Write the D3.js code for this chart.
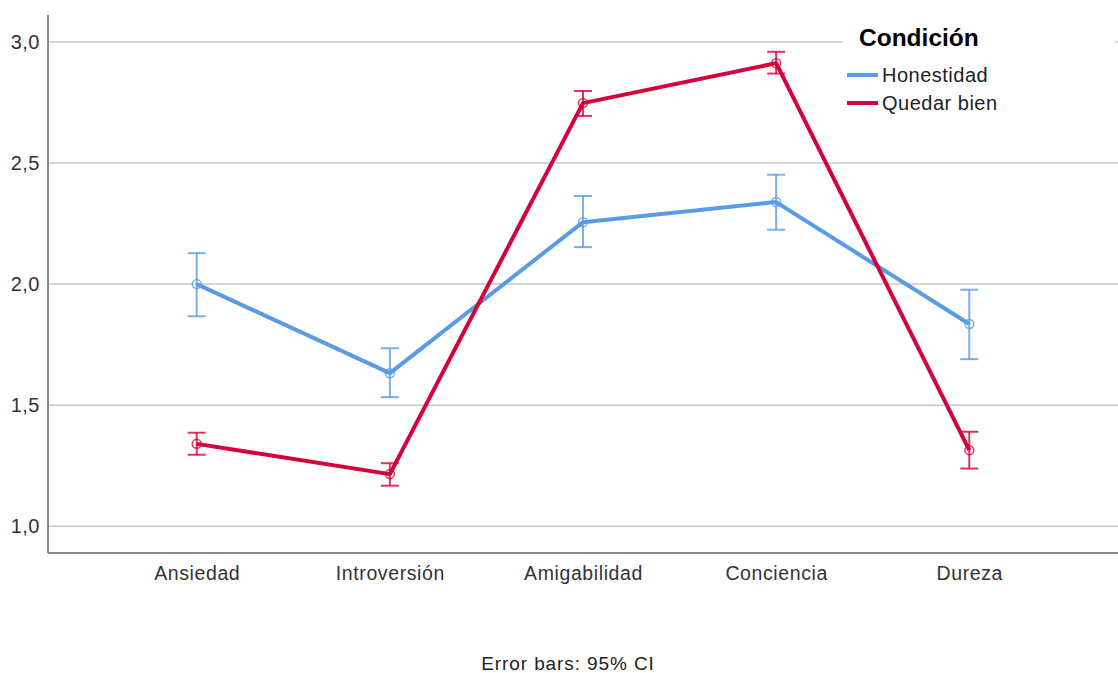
<!DOCTYPE html>
<html>
<head>
<meta charset="utf-8">
<script src="https://cdn.jsdelivr.net/npm/d3@7"></script>
<style>
  body { margin: 0; background: #fff; }
  text { font-family: "Liberation Sans", Arial, sans-serif; }
</style>
</head>
<body>
<div id="chart"></div>
<script>
const categories = ["Ansiedad", "Introversión", "Amigabilidad", "Conciencia", "Dureza"];
const seriesNames = ["Honestidad", "Quedar bien"];
const honestidadMean = [2.0, 1.632, 2.256, 2.339, 1.835];
const honestidadLow = [1.867, 1.533, 2.153, 2.225, 1.69];
const honestidadHigh = [2.128, 1.735, 2.364, 2.452, 1.977];
const quedarMean = [1.34, 1.215, 2.748, 2.913, 1.314];
const quedarLow = [1.295, 1.167, 2.695, 2.87, 1.238];
const quedarHigh = [1.386, 1.26, 2.798, 2.96, 1.39];
const yTicks = [1.0, 1.5, 2.0, 2.5, 3.0];

const colors = { "Honestidad": "#5a9be6", "Quedar bien": "#d6003a" };

const width = 1118, height = 673;
const margin = { top: 15, right: 0, bottom: 120, left: 48 };
const plotW = width - margin.left - margin.right,
    plotH = height - margin.top - margin.bottom;

const svg = d3.select("#chart").append("svg")
    .attr("width", width)
    .attr("height", height);

const g = svg.append("g")
    .attr("transform", "translate(" + margin.left + "," + margin.top + ")");

const x = d3.scalePoint()
    .domain(categories)
    .range([0, plotW])
    .padding(0.77);

// y range 0.889 .. 3.112 -> 538px
const y = d3.scaleLinear()
    .domain([0.889, 3.112])
    .range([plotH, 0]);

// gridlines
g.append("g")
    .selectAll("line")
    .data(yTicks)
    .enter().append("line")
    .attr("x1", 0).attr("x2", plotW)
    .attr("y1", d => y(d)).attr("y2", d => y(d))
    .attr("stroke", "#c8c8c8")
    .attr("stroke-width", 1.5);

// y axis
const yAxis = g.append("g")
    .call(d3.axisLeft(y).tickValues(yTicks).tickSize(0).tickPadding(8)
        .tickFormat(d => d3.format(".1f")(d).replace(".", ",")));
yAxis.select(".domain").remove();
yAxis.selectAll("text")
    .attr("font-size", 20)
    .attr("fill", "#333")
    .attr("letter-spacing", 0.5)
    .attr("font-family", "Liberation Sans, Arial, sans-serif");

// x axis
const xAxis = g.append("g")
    .attr("transform", "translate(0," + plotH + ")")
    .call(d3.axisBottom(x).tickSize(0).tickPadding(13));
xAxis.select(".domain").remove();
xAxis.selectAll("text")
    .attr("font-size", 19.5)
    .attr("fill", "#333")
    .attr("letter-spacing", 0.6)
    .attr("font-family", "Liberation Sans, Arial, sans-serif");

// axis lines
g.append("line")
    .attr("x1", 0).attr("x2", 0).attr("y1", 0).attr("y2", plotH)
    .attr("stroke", "#888").attr("stroke-width", 2);
g.append("line")
    .attr("x1", 0).attr("x2", plotW).attr("y1", plotH).attr("y2", plotH)
    .attr("stroke", "#888").attr("stroke-width", 2);

const series = [
    { name: "Honestidad", mean: honestidadMean, low: honestidadLow, high: honestidadHigh },
    { name: "Quedar bien", mean: quedarMean, low: quedarLow, high: quedarHigh }
];

const line = d3.line()
    .x((d, i) => x(categories[i]))
    .y(d => y(d));

series.forEach(s => {
    const c = colors[s.name];
    const sg = g.append("g");
    const bars = sg.selectAll(".err")
        .data(categories)
        .enter().append("g")
        .attr("class", "err")
        .attr("stroke", c)
        .attr("stroke-opacity", 0.8)
        .attr("stroke-width", 2);
    bars.append("line")
        .attr("x1", d => x(d)).attr("x2", d => x(d))
        .attr("y1", (d, i) => y(s.low[i])).attr("y2", (d, i) => y(s.high[i]));
    bars.append("line")
        .attr("x1", d => x(d) - 9).attr("x2", d => x(d) + 9)
        .attr("y1", (d, i) => y(s.low[i])).attr("y2", (d, i) => y(s.low[i]));
    bars.append("line")
        .attr("x1", d => x(d) - 9).attr("x2", d => x(d) + 9)
        .attr("y1", (d, i) => y(s.high[i])).attr("y2", (d, i) => y(s.high[i]));

    sg.append("path")
        .datum(s.mean)
        .attr("d", line)
        .attr("fill", "none")
        .attr("stroke", c)
        .attr("stroke-width", 4)
        .attr("stroke-linejoin", "round");

    sg.selectAll("circle")
        .data(s.mean)
        .enter().append("circle")
        .attr("cx", (d, i) => x(categories[i]))
        .attr("cy", d => y(d))
        .attr("r", 4.5)
        .attr("fill", "none")
        .attr("stroke", c)
        .attr("stroke-opacity", 0.8)
        .attr("stroke-width", 1.5);
});

// legend
const legend = svg.append("g");
legend.append("rect")
    .attr("x", 843).attr("y", 18)
    .attr("width", 272).attr("height", 100)
    .attr("fill", "#fff");
legend.append("text")
    .attr("x", 859).attr("y", 46)
    .attr("font-size", 24.5)
    .attr("font-weight", "bold")
    .attr("fill", "#000")
    .text("Condición");
seriesNames.forEach((n, i) => {
    const ly = 75 + i * 28;
    legend.append("line")
        .attr("x1", 847).attr("x2", 878)
        .attr("y1", ly).attr("y2", ly)
        .attr("stroke", colors[n])
        .attr("stroke-width", 4);
    legend.append("text")
        .attr("x", 882).attr("y", ly + 7)
        .attr("font-size", 20)
        .attr("letter-spacing", 0.5)
        .attr("fill", "#222")
        .text(n);
});

// footnote
svg.append("text")
    .attr("x", 568).attr("y", 670)
    .attr("text-anchor", "middle")
    .attr("font-size", 19)
    .attr("letter-spacing", 0.9)
    .attr("fill", "#222")
    .text("Error bars: 95% CI");
</script>
</body>
</html>
